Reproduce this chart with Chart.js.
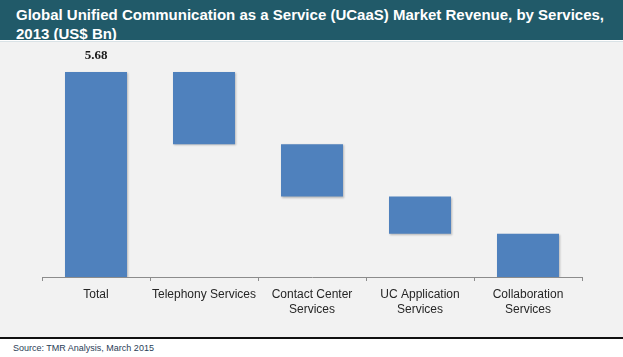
<!DOCTYPE html>
<html>
<head>
<meta charset="utf-8">
<script src="https://cdn.jsdelivr.net/npm/chart.js@4"></script>
<style>
  html, body { margin: 0; padding: 0; }
  body { width: 623px; height: 357px; position: relative; background: #ffffff; overflow: hidden; font-family: "Liberation Sans", Arial, sans-serif; }
  #titlebar { position: absolute; left: 0; top: 0; width: 623px; height: 40px; background: #215a69; }
  #title { position: absolute; left: 16px; top: 5px; width: 588px; color: #ffffff; font-weight: bold; font-size: 15px; line-height: 19px; text-align: justify; text-align-last: left; }
  #plotbg { position: absolute; left: 0; top: 41px; width: 623px; height: 296px; background: #f2f2f2; border-top: 1px solid #d9e2e6; }
  #rule { position: absolute; left: 0; top: 337px; width: 623px; height: 2px; background: #111111; }
  #source { position: absolute; left: 13px; top: 343px; font-size: 9px; color: #2a3d56; }
  #wrap { position: absolute; left: 0; top: 41px; width: 623px; height: 296px; }
</style>
</head>
<body>
<div id="titlebar"><div id="title">Global Unified Communication as a Service (UCaaS) Market Revenue, by Services, 2013 (US$ Bn)</div></div>
<div id="plotbg"></div>
<div id="rule"></div>
<div id="source">Source: TMR Analysis, March 2015</div>
<div id="wrap"><canvas id="c" width="623" height="296"></canvas></div>
<script>
const categories = ["Total", "Telephony Services", ["Contact Center", "Services"], ["UC Application", "Services"], ["Collaboration", "Services"]];
const values = [5.68, 2.00, 1.45, 1.03, 1.20];
const totalLabel = "5.68";

// Build floating waterfall ranges from the values
const ranges = [];
let level = values[0];
ranges.push([0, values[0]]);
for (let i = 1; i < values.length; i++) {
  ranges.push([level - values[i], level]);
  level -= values[i];
}

const labelPlugin = {
  id: 'totalLabel',
  afterDatasetsDraw(chart) {
    const meta = chart.getDatasetMeta(0);
    const bar = meta.data[0];
    const ctx = chart.ctx;
    ctx.save();
    ctx.font = 'bold 13px "Liberation Serif", "DejaVu Serif", serif';
    ctx.fillStyle = '#1a1a1a';
    ctx.textAlign = 'center';
    ctx.textBaseline = 'middle';
    ctx.fillText(totalLabel, bar.x, bar.y - 16);
    ctx.restore();
  }
};

const shadowPlugin = {
  id: 'barShadow',
  beforeDatasetsDraw(chart) {
    const ctx = chart.ctx;
    ctx.save();
    ctx.shadowColor = 'rgba(0,0,0,0.25)';
    ctx.shadowBlur = 2;
    ctx.shadowOffsetX = 1;
    ctx.shadowOffsetY = 1;
  },
  afterDatasetsDraw(chart) {
    chart.ctx.restore();
  }
};

new Chart(document.getElementById('c'), {
  type: 'bar',
  data: {
    labels: categories,
    datasets: [{
      data: ranges,
      backgroundColor: '#4f81bd',
      borderWidth: 0,
      borderSkipped: false,
      categoryPercentage: 1.0,
      barPercentage: 0.574
    }]
  },
  options: {
    responsive: false,
    animation: false,
    events: [],
    layout: { padding: { left: 42, right: 41, top: 5, bottom: 0 } },
    plugins: { legend: { display: false }, tooltip: { enabled: false } },
    scales: {
      x: {
        offset: true,
        grid: { offset: true, drawOnChartArea: false, drawTicks: true, tickLength: 4, color: '#8c8c8c', lineWidth: 1 },
        border: { display: true, color: '#8c8c8c', width: 1 },
        ticks: { color: '#262626', font: { family: '"Liberation Sans", Arial, sans-serif', size: 12, lineHeight: 1.25 }, padding: 6, maxRotation: 0, autoSkip: false },
        afterFit(scale) { scale.height = 60; }
      },
      y: {
        display: false,
        min: 0,
        max: 6.4
      }
    }
  },
  plugins: [shadowPlugin, labelPlugin]
});
</script>
</body>
</html>
